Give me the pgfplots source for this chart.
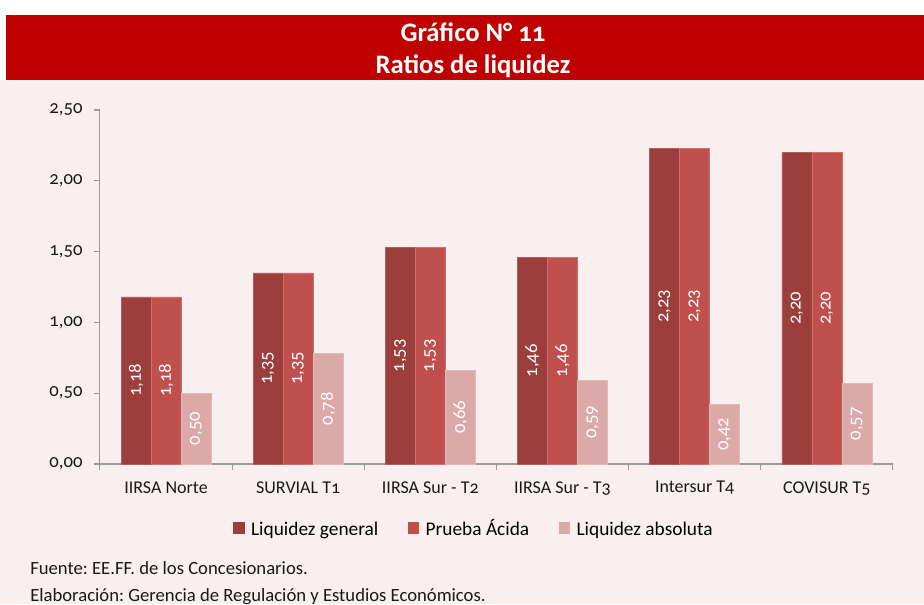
\documentclass[border=0pt]{standalone}
\usepackage{fontspec}
\setmainfont{Carlito}[Numbers=OldStyle]
\usepackage{pgfplots}
\usepackage{pgfplotstable}
\pgfplotsset{compat=1.18}
\frenchspacing

\definecolor{titlered}{HTML}{C00000}
\definecolor{bgpink}{HTML}{F9EFEF}
\definecolor{cgen}{HTML}{9B3E3C}
\definecolor{cacid}{HTML}{C0504D}
\definecolor{cabs}{HTML}{DAA9A8}
\definecolor{axgray}{HTML}{9A9A9A}

\pgfplotstableread{
x gen acid abs
0 1.18 1.18 0.50
1 1.35 1.35 0.78
2 1.53 1.53 0.66
3 1.46 1.46 0.59
4 2.23 2.23 0.42
5 2.20 2.20 0.57
}\ratios

\begin{document}
\begin{tikzpicture}[x=0.75pt,y=0.75pt]
% 1 unit = 1 px of the reference, y measured from the bottom
\clip (0,0) rectangle (924,604);
\fill[white] (0,0) rectangle (924,604);
\fill[bgpink] (0,0) rectangle (924,524);
\fill[titlered] (6,524) rectangle (924,589);
\node[white, font=\fontsize{20}{24}\selectfont\bfseries] at (473,572) {Gráfico N° 11};
\node[white, font=\fontsize{20}{24}\selectfont\bfseries] at (473,538) {Ratios de liquidez};

\begin{axis}[
  at={(124.5pt,105pt)}, anchor=origin,
  scale only axis, width=594.75pt, height=265.5pt,
  ybar=0pt, bar width=22.5pt,
  xmin=-0.5, xmax=5.5, ymin=0, ymax=2.5,
  axis x line*=bottom, axis y line*=left,
  axis line style={axgray, line width=0.8pt},
  every tick/.style={axgray, line width=0.8pt},
  tick align=outside,
  xtick={0,...,5},
  xticklabels={IIRSA Norte, SURVIAL T1, IIRSA Sur - T2, IIRSA Sur - T3, Intersur T4, COVISUR T5},
  major x tick style={draw=none},
  minor xtick={-0.5,0.5,...,5.5},
  minor tick length=4.5pt,
  ytick={0,0.5,...,2.5},
  major tick length=4.5pt,
  xticklabel style={font=\fontsize{13.5}{16}\selectfont, text=black!90, yshift=-5pt},
  yticklabel style={font=\fontsize{14}{16}\selectfont, text=black!90, xshift=-5pt},
  /pgf/number format/.cd, use comma, fixed, fixed zerofill, precision=2, assume math mode=true,
  /pgfplots/.cd,
  visualization depends on={rawy \as \rawy},
  nodes near coords,
  every node near coord/.append style={white, font=\fontsize{14}{16}\selectfont, anchor=center,
    yshift={-53.1pt*\rawy}, rotate=90},
  legend style={at={(0.472,-0.181)}, anchor=center, draw=none, fill=none,
    legend columns=3, font=\fontsize{14.5}{16}\selectfont,
    /tikz/every odd column/.append style={column sep=3pt},
    /tikz/every even column/.append style={column sep=20pt}},
  legend cell align=left,
  bars/.style={fill=#1, draw=#1!82!white, line width=0.5pt,
    legend image code/.code={\fill[#1] (0pt,-4pt) rectangle (8pt,4pt);}},
]
\addplot[bars=cgen] table[x=x, y=gen] {\ratios};
\addlegendentry{\vphantom{Áy}Liquidez general}
\addplot[bars=cacid] table[x=x, y=acid] {\ratios};
\addlegendentry{\vphantom{Áy}Prueba Ácida}
\addplot[bars=cabs] table[x=x, y=abs] {\ratios};
\addlegendentry{\vphantom{Áy}Liquidez absoluta}
\end{axis}

\node[anchor=west, font=\fontsize{14}{16}\selectfont, text=black!90, inner sep=0pt] at (30,36) {Fuente: EE.FF. de los Concesionarios.};
\node[anchor=west, font=\fontsize{14}{16}\selectfont, text=black!90, inner sep=0pt] at (30,7) {Elaboración: Gerencia de Regulación y Estudios Económicos.};
\end{tikzpicture}
\end{document}
